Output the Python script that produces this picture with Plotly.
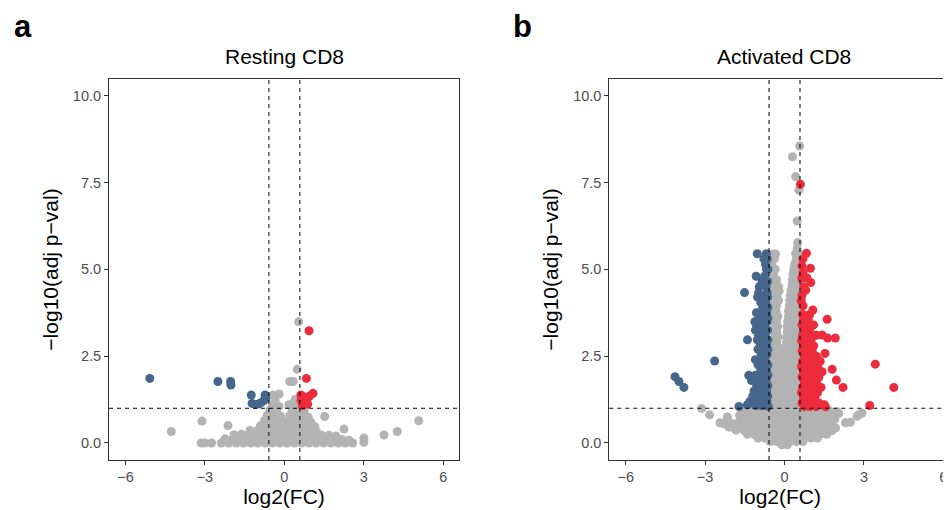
import plotly.graph_objects as go

# thresholds: |log2FC| > log2(1.5), -log10(adj p) > 1
FC_CUT = 0.585
P_CUT = 1.0

GREY = "#B3B3B3"
BLUE = "#46668B"
RED = "#EC2C3C"

# ---- panel a: resting CD8, (log2FC, -log10 adj p)
rest_down = [
    (-5.08, 1.86), (-2.51, 1.77), (-2.03, 1.77), (-2.02, 1.67), (-1.25, 1.38), (-0.73, 1.38),
    (-1.22, 1.14), (-1.10, 1.11), (-0.98, 1.12), (-0.88, 1.16), (-0.78, 1.22), (-0.70, 1.28),
]
rest_up = [
    (0.93, 3.23), (0.83, 1.86), (0.62, 1.38), (0.72, 1.33), (0.85, 1.25), (0.95, 1.35),
    (1.08, 1.43), (0.78, 1.15), (0.68, 1.08), (0.88, 1.12), (0.63, 1.22),
]
rest_ns = [
    (0.54, 3.49), (0.48, 2.12), (0.20, 1.77), (0.33, 1.77), (-0.20, 1.41), (-0.43, 1.38),
    (0.17, 1.10), (0.30, 1.12), (0.46, 1.08), (-0.35, 1.22), (0.40, 1.25),
    (1.52, 0.76), (5.07, 0.64), (4.26, 0.33), (3.76, 0.23), (3.00, 0.14), (3.00, 0.02),
    (2.25, 0.40), (-4.27, 0.33), (-3.11, 0.63), (-2.13, 0.50),
    (-3.14, 0.00), (-3.00, 0.00), (-2.75, 0.00), (-2.38, 0.00), (-2.10, 0.00), (-1.82, 0.00),
    (-1.55, 0.00), (-1.27, 0.00), (-1.00, 0.00), (-0.72, 0.00), (-0.45, 0.00), (-0.17, 0.00),
    (0.10, 0.00), (0.38, 0.00), (0.65, 0.00), (0.93, 0.00), (1.20, 0.00), (1.48, 0.00),
    (1.75, 0.00), (2.03, 0.00), (2.30, 0.00), (2.58, 0.00),
    (-2.24, 0.12), (-1.96, 0.11), (-1.68, 0.13), (-1.41, 0.12), (-1.13, 0.12), (-0.86, 0.13),
    (-0.58, 0.12), (-0.31, 0.11), (-0.03, 0.13), (0.24, 0.12), (0.52, 0.12), (0.79, 0.13),
    (1.07, 0.12), (1.34, 0.11), (1.62, 0.12), (1.89, 0.12), (2.17, 0.10), (2.44, 0.08),
    (-1.90, 0.24), (-1.62, 0.25), (-1.35, 0.24), (-1.07, 0.26), (-0.80, 0.25), (-0.52, 0.24),
    (-0.25, 0.26), (0.03, 0.24), (0.30, 0.25), (0.58, 0.26), (0.85, 0.24), (1.13, 0.25),
    (1.40, 0.23), (1.68, 0.22), (1.95, 0.20),
    (-1.30, 0.36), (-1.00, 0.37), (-0.72, 0.38), (-0.45, 0.36), (-0.17, 0.38), (0.10, 0.37),
    (0.38, 0.38), (0.65, 0.36), (0.93, 0.37), (1.20, 0.34),
    (-0.90, 0.50), (-0.60, 0.52), (-0.35, 0.50), (-0.10, 0.48), (0.15, 0.51), (0.40, 0.52),
    (0.65, 0.50), (0.90, 0.48), (1.15, 0.47),
    (-0.75, 0.65), (-0.50, 0.66), (-0.25, 0.64), (0.00, 0.62), (0.25, 0.66), (0.50, 0.65),
    (0.75, 0.64), (1.00, 0.60),
    (-0.65, 0.80), (-0.40, 0.82), (-0.15, 0.78), (0.20, 0.80), (0.45, 0.82), (0.70, 0.78),
    (0.90, 0.74),
    (-0.55, 0.95), (-0.30, 0.96), (0.30, 0.94), (0.55, 0.97), (0.75, 0.92),
    (-0.45, 1.08), (-0.20, 1.05),
]

# ---- panel b: activated CD8
act_down = [
    (-4.14, 1.91), (-3.99, 1.77), (-3.80, 1.60), (-2.64, 2.36),
    (-1.03, 5.45), (-0.69, 5.45), (-0.78, 5.30), (-0.65, 5.30), (-0.72, 5.15),
    (-0.68, 5.00), (-0.63, 5.00), (-1.07, 4.80), (-0.75, 4.80), (-0.85, 4.65), (-0.64, 4.65),
    (-0.95, 4.50), (-0.70, 4.50), (-1.51, 4.33), (-0.98, 4.33), (-0.66, 4.33),
    (-1.02, 4.20), (-0.80, 4.20), (-0.64, 4.20), (-0.90, 4.05), (-0.70, 4.05),
    (-0.82, 3.90), (-0.63, 3.90), (-1.06, 3.75), (-0.92, 3.75), (-0.68, 3.75),
    (-0.95, 3.60), (-0.78, 3.60), (-0.63, 3.60), (-1.12, 3.49), (-0.85, 3.49), (-0.66, 3.49),
    (-1.05, 3.35), (-0.75, 3.35), (-1.10, 3.25), (-0.90, 3.25), (-0.64, 3.25),
    (-0.98, 3.10), (-0.72, 3.10), (-1.40, 2.97), (-1.03, 2.97), (-0.80, 2.97), (-0.63, 2.97),
    (-0.92, 2.85), (-0.68, 2.85), (-1.00, 2.70), (-0.78, 2.70), (-0.63, 2.70),
    (-0.88, 2.55), (-0.66, 2.55), (-1.10, 2.40), (-0.95, 2.40), (-0.74, 2.40),
    (-1.00, 2.25), (-0.82, 2.25), (-0.63, 2.25), (-0.90, 2.10), (-0.68, 2.10),
    (-1.35, 1.95), (-1.10, 1.95), (-0.78, 1.95), (-0.63, 1.95),
    (-1.25, 1.80), (-0.95, 1.80), (-0.70, 1.80), (-1.05, 1.65), (-0.85, 1.65), (-0.63, 1.65),
    (-1.15, 1.50), (-0.92, 1.50), (-0.68, 1.50),
    (-1.20, 1.35), (-1.00, 1.35), (-0.78, 1.35), (-0.63, 1.35),
    (-1.30, 1.20), (-1.05, 1.20), (-0.85, 1.20), (-0.67, 1.20),
    (-1.72, 1.05), (-1.40, 1.10), (-1.10, 1.08), (-0.90, 1.08), (-0.72, 1.08), (-0.62, 1.06),
]
act_up = [
    (0.60, 7.45), (0.83, 5.46), (0.98, 5.03), (0.99, 4.62), (1.07, 3.83), (1.10, 3.40),
    (1.61, 3.56), (1.42, 3.11), (1.63, 3.02), (1.92, 3.02), (1.53, 2.58), (1.80, 2.12),
    (1.96, 1.81), (2.21, 1.60), (3.43, 2.27), (4.13, 1.60), (3.22, 1.08), (1.50, 1.10),
    (1.55, 1.04),
    (0.70, 5.30), (0.66, 5.10), (0.70, 4.90), (0.65, 4.75), (0.85, 4.75), (0.72, 4.50),
    (0.80, 4.40), (0.66, 4.25), (0.63, 4.10), (0.70, 3.95), (0.68, 3.70), (0.95, 3.70),
    (0.72, 3.55), (0.90, 3.55), (0.66, 3.40), (0.85, 3.40), (0.75, 3.25), (0.95, 3.25),
    (0.68, 3.10), (0.88, 3.10), (1.20, 3.10), (0.64, 2.95), (0.80, 2.95), (1.00, 2.95),
    (0.72, 2.80), (0.92, 2.80), (1.10, 2.80), (0.66, 2.65), (0.85, 2.65), (1.05, 2.65),
    (0.75, 2.50), (0.95, 2.50), (1.20, 2.50),
    (0.68, 2.35), (0.88, 2.35), (1.10, 2.35), (1.35, 2.35),
    (0.64, 2.20), (0.80, 2.20), (1.00, 2.20), (1.25, 2.20),
    (0.72, 2.05), (0.92, 2.05), (1.15, 2.05), (1.42, 2.05),
    (0.66, 1.90), (0.85, 1.90), (1.05, 1.90), (1.30, 1.90),
    (0.75, 1.75), (0.95, 1.75), (1.20, 1.75),
    (0.68, 1.60), (0.88, 1.60), (1.10, 1.60), (1.38, 1.60),
    (0.64, 1.45), (0.80, 1.45), (1.00, 1.45), (1.25, 1.45),
    (0.72, 1.30), (0.92, 1.30), (1.15, 1.30),
    (0.66, 1.15), (0.85, 1.15), (1.05, 1.15), (1.30, 1.15),
    (0.75, 1.05), (0.95, 1.05), (1.20, 1.05),
]
act_ns = [
    # top of the volcano
    (0.57, 8.55), (0.30, 8.24), (0.42, 7.67), (0.54, 7.28), (0.48, 6.39), (0.50, 5.77),
    (-0.34, 5.44), (-0.45, 5.44),
    # right arm
    (0.48, 5.60), (0.42, 5.45), (0.55, 5.45), (0.45, 5.30), (0.38, 5.15), (0.52, 5.15),
    (0.35, 5.00), (0.50, 5.00), (0.32, 4.85), (0.48, 4.85), (0.30, 4.70), (0.45, 4.70),
    (0.56, 4.70), (0.28, 4.55), (0.42, 4.55), (0.25, 4.40), (0.40, 4.40), (0.54, 4.40),
    (0.22, 4.25), (0.38, 4.25), (0.52, 4.25), (0.20, 4.10), (0.35, 4.10), (0.50, 4.10),
    (0.18, 3.95), (0.32, 3.95), (0.48, 3.95), (0.15, 3.80), (0.30, 3.80), (0.45, 3.80),
    (0.56, 3.80), (0.15, 3.65), (0.28, 3.65), (0.42, 3.65), (0.55, 3.65),
    (0.12, 3.50), (0.26, 3.50), (0.40, 3.50), (0.54, 3.50),
    (0.10, 3.35), (0.24, 3.35), (0.38, 3.35), (0.52, 3.35),
    (0.10, 3.20), (0.22, 3.20), (0.36, 3.20), (0.50, 3.20),
    (0.08, 3.05), (0.20, 3.05), (0.34, 3.05), (0.48, 3.05),
    (0.08, 2.90), (0.20, 2.90), (0.32, 2.90), (0.46, 2.90), (0.56, 2.90),
    (0.06, 2.75), (0.18, 2.75), (0.30, 2.75), (0.44, 2.75), (0.55, 2.75),
    (0.05, 2.60), (0.18, 2.60), (0.30, 2.60), (0.42, 2.60), (0.54, 2.60),
    # left arm
    (-0.50, 5.30), (-0.38, 5.30), (-0.48, 5.15), (-0.45, 5.00), (-0.35, 5.00), (-0.42, 4.85),
    (-0.40, 4.70), (-0.30, 4.70), (-0.45, 4.55), (-0.22, 4.50), (-0.38, 4.40), (-0.20, 4.38),
    (-0.42, 4.25), (-0.28, 4.25), (-0.35, 4.10), (-0.22, 4.10), (-0.40, 3.95), (-0.30, 3.95),
    (-0.45, 3.80), (-0.32, 3.80), (-0.38, 3.65), (-0.25, 3.65), (-0.42, 3.50), (-0.30, 3.50),
    (-0.36, 3.35), (-0.26, 3.35), (-0.40, 3.20), (-0.30, 3.20), (-0.35, 3.05), (-0.24, 3.05),
    (-0.42, 2.90), (-0.30, 2.90), (-0.36, 2.75), (-0.22, 2.75),
    (-0.40, 2.60), (-0.28, 2.60), (-0.15, 2.60),
    # middle, above the cut-off
    (-0.45, 2.45), (-0.30, 2.45), (-0.15, 2.45), (0.05, 2.45), (0.20, 2.45), (0.35, 2.45),
    (0.50, 2.45),
    (-0.50, 2.30), (-0.35, 2.30), (-0.20, 2.30), (-0.05, 2.30), (0.10, 2.30), (0.25, 2.30),
    (0.40, 2.30), (0.55, 2.30),
    (-0.45, 2.15), (-0.30, 2.15), (-0.15, 2.15), (0.00, 2.15), (0.15, 2.15), (0.30, 2.15),
    (0.45, 2.15),
    (-0.50, 2.00), (-0.35, 2.00), (-0.20, 2.00), (-0.05, 2.00), (0.10, 2.00), (0.25, 2.00),
    (0.40, 2.00), (0.55, 2.00),
    (-0.45, 1.85), (-0.30, 1.85), (-0.15, 1.85), (0.00, 1.85), (0.15, 1.85), (0.30, 1.85),
    (0.45, 1.85),
    (-0.50, 1.70), (-0.35, 1.70), (-0.20, 1.70), (-0.05, 1.70), (0.10, 1.70), (0.25, 1.70),
    (0.40, 1.70), (0.55, 1.70),
    (-0.45, 1.55), (-0.30, 1.55), (-0.15, 1.55), (0.00, 1.55), (0.15, 1.55), (0.30, 1.55),
    (0.45, 1.55),
    (-0.50, 1.40), (-0.35, 1.40), (-0.20, 1.40), (-0.05, 1.40), (0.10, 1.40), (0.25, 1.40),
    (0.40, 1.40), (0.55, 1.40),
    (-0.45, 1.25), (-0.30, 1.25), (-0.15, 1.25), (0.00, 1.25), (0.15, 1.25), (0.30, 1.25),
    (0.45, 1.25),
    (-0.50, 1.10), (-0.35, 1.10), (-0.20, 1.10), (-0.05, 1.10), (0.10, 1.10), (0.25, 1.10),
    (0.40, 1.10), (0.55, 1.10),
    # base of the volcano, below the cut-off
    (-3.13, 0.99), (-1.55, 0.92), (-1.30, 0.92), (-1.05, 0.92), (-0.80, 0.92), (-0.55, 0.92),
    (-0.30, 0.92), (-0.05, 0.92), (0.20, 0.92), (0.45, 0.92), (0.70, 0.92), (0.95, 0.92),
    (1.20, 0.92), (1.45, 0.92), (1.70, 0.92), (1.99, 0.90),
    (-2.83, 0.81), (-2.16, 0.75), (-1.70, 0.80), (-1.45, 0.80), (-1.20, 0.80), (-0.95, 0.80),
    (-0.70, 0.80), (-0.45, 0.80), (-0.20, 0.80), (0.05, 0.80), (0.30, 0.80), (0.55, 0.80),
    (0.80, 0.80), (1.05, 0.80), (1.30, 0.80), (1.55, 0.80), (1.80, 0.80), (2.05, 0.85),
    (2.74, 0.77), (2.81, 0.81), (2.93, 0.86),
    (-2.14, 0.68), (-1.60, 0.68), (-1.35, 0.68), (-1.10, 0.68), (-0.85, 0.68), (-0.60, 0.68),
    (-0.35, 0.68), (-0.10, 0.68), (0.15, 0.68), (0.40, 0.68), (0.65, 0.68), (0.90, 0.68),
    (1.15, 0.68), (1.40, 0.68), (1.65, 0.68), (1.90, 0.68),
    (-2.44, 0.58), (-2.30, 0.56), (-1.90, 0.55), (-1.75, 0.58), (-1.50, 0.58), (-1.25, 0.58),
    (-1.00, 0.58), (-0.75, 0.58), (-0.50, 0.58), (-0.25, 0.58), (0.00, 0.58), (0.25, 0.58),
    (0.50, 0.58), (0.75, 0.58), (1.00, 0.58), (1.25, 0.58), (1.50, 0.58), (1.75, 0.58),
    (2.30, 0.58), (2.49, 0.60),
    (-2.10, 0.46), (-1.95, 0.46), (-1.60, 0.46), (-1.35, 0.46), (-1.10, 0.46), (-0.85, 0.46),
    (-0.60, 0.46), (-0.35, 0.46), (-0.10, 0.46), (0.15, 0.46), (0.40, 0.46), (0.65, 0.46),
    (0.90, 0.46), (1.15, 0.46), (1.40, 0.46), (1.65, 0.46), (1.93, 0.43),
    (-1.83, 0.37), (-1.52, 0.36), (-1.25, 0.36), (-1.00, 0.36), (-0.75, 0.36), (-0.50, 0.36),
    (-0.25, 0.36), (0.00, 0.36), (0.25, 0.36), (0.50, 0.36), (0.75, 0.36), (1.00, 0.36),
    (1.25, 0.36), (1.50, 0.36), (1.80, 0.36),
    (-1.40, 0.25), (-1.15, 0.25), (-0.90, 0.25), (-0.65, 0.25), (-0.40, 0.25), (-0.15, 0.25),
    (0.10, 0.25), (0.35, 0.25), (0.60, 0.25), (0.85, 0.25), (1.10, 0.25), (1.35, 0.25),
    (1.60, 0.25),
    (-1.00, 0.14), (-0.75, 0.14), (-0.50, 0.14), (-0.25, 0.14), (0.00, 0.14), (0.25, 0.14),
    (0.50, 0.14), (0.75, 0.14), (1.00, 0.14), (1.25, 0.14),
    (-0.55, 0.04), (-0.30, 0.04), (-0.05, 0.04), (0.20, 0.04), (0.45, 0.04), (0.70, 0.04),
    (-0.10, -0.05), (0.10, -0.05),
]

panels = [
    ("Resting CD8", "a", rest_ns, rest_down, rest_up),
    ("Activated CD8", "b", act_ns, act_down, act_up),
]

FONT = "Liberation Sans, Arial, Helvetica, sans-serif"

# the page body has an 8px margin, so the figure sits at (8, 8) in the 951x510 window
OFF = 8
W, H = 951 - OFF, 510 - OFF


def px_x(sx):
    return (sx - OFF) / W


def px_y(sy):
    return (510 - sy) / H


# plot areas in window pixels (left, right); panel b runs off the right edge
x_px = [(109, 459), (609.3, 951)]
top_px, bottom_px = 79, 460
px_per_x = 26.5
x_ranges = [[-6.62, 6.59], [-6.62, 6.0 + (951 - 943.3) / px_per_x]]
y_range = [-0.49, 10.48]

fig = go.Figure()
for i, (title, letter, ns, down, up) in enumerate(panels):
    xa = "x" if i == 0 else "x2"
    ya = "y" if i == 0 else "y2"
    for pts, col in [(ns, GREY), (down, BLUE), (up, RED)]:
        fig.add_trace(go.Scatter(
            x=[p[0] for p in pts], y=[p[1] for p in pts], mode="markers",
            marker=dict(color=col, size=9, line=dict(width=0)),
            xaxis=xa, yaxis=ya, showlegend=False, hoverinfo="x+y"))

    axis_common = dict(showgrid=False, zeroline=False, showline=True, linecolor="#333333",
                       linewidth=1, ticks="outside", ticklen=4, tickcolor="#333333",
                       automargin=False,
                       tickfont=dict(family=FONT, size=14.5, color="#4D4D4D"))
    sfx = "" if i == 0 else "2"
    fig.update_layout(**{
        "xaxis" + sfx: dict(axis_common, domain=[px_x(x_px[i][0]), min(px_x(x_px[i][1]), 1)],
                            range=x_ranges[i], tickvals=[-6, -3, 0, 3, 6], mirror=True,
                            anchor="y" + sfx,
                            title=dict(text="log2(FC)", standoff=4,
                                       font=dict(family=FONT, size=21, color="black"))),
        "yaxis" + sfx: dict(axis_common, domain=[px_y(bottom_px), px_y(top_px)],
                            range=y_range, tickvals=[0, 2.5, 5, 7.5, 10],
                            ticktext=["0.0", "2.5", "5.0", "7.5", "10.0"],
                            mirror=(i == 0), anchor="x" + sfx,
                            title=dict(text="\u2212log10(adj p\u2212val)", standoff=8,
                                       font=dict(family=FONT, size=21, color="black"))),
    })

    # cut-off lines
    for xv in (-FC_CUT, FC_CUT):
        fig.add_shape(type="line", xref=xa, yref=ya + " domain", x0=xv, x1=xv, y0=0, y1=1,
                      line=dict(color="black", width=1, dash="4px,4px"), layer="above")
    fig.add_shape(type="line", xref=xa + " domain", yref=ya, x0=0, x1=1, y0=P_CUT, y1=P_CUT,
                  line=dict(color="black", width=1, dash="4px,4px"), layer="above")

    cx = (x_px[i][0] + (x_px[i][1] if i == 0 else 959)) / 2
    fig.add_annotation(text=title, x=px_x(cx), y=px_y(56), xref="paper", yref="paper",
                       xanchor="center", yanchor="middle", showarrow=False,
                       font=dict(family=FONT, size=21, color="black"))
    fig.add_annotation(text="<b>%s</b>" % letter, x=px_x(12 if i == 0 else 511),
                       y=px_y(26), xref="paper", yref="paper", xanchor="left",
                       yanchor="middle", showarrow=False, height=30,
                       font=dict(family=FONT, size=31, color="black"))

fig.update_layout(width=W, height=H, autosize=False, margin=dict(l=0, r=0, t=0, b=0),
                  plot_bgcolor="white", paper_bgcolor="white")

fig.write_html("out.html")
